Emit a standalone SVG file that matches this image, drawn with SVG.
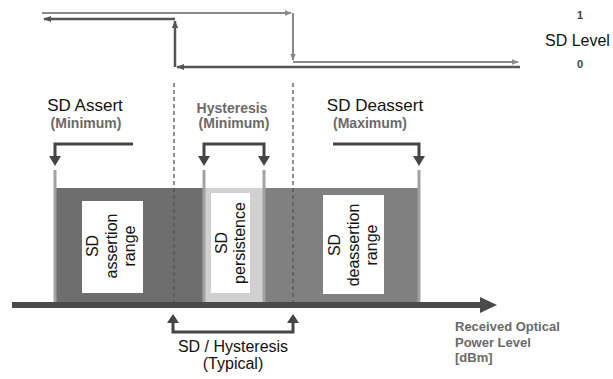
<svg xmlns="http://www.w3.org/2000/svg" width="613" height="379" viewBox="0 0 613 379">
<style>
.t{font-family:"Liberation Sans",Arial,sans-serif;fill:#111}
.b{font-family:"Liberation Sans",Arial,sans-serif;font-weight:bold;fill:#6a6a6a}
.lv{font-family:"Liberation Sans",Arial,sans-serif;font-weight:bold;fill:#444;font-size:11px}
.sig1{stroke:#8a8a8a;stroke-width:2;fill:none}
.sig2{stroke:#555;stroke-width:2.5;fill:none}
.dash{stroke:#555;stroke-width:1.3;stroke-dasharray:4 3;fill:none}
.brk{stroke:#454545;stroke-width:3;fill:none}
.ah{fill:#454545}
.vl{stroke:#a2a2a2;stroke-width:3}
.box{fill:#fff}
</style>
<defs>
<marker id="a1" viewBox="0 0 10 10" refX="9" refY="5" markerWidth="7" markerHeight="7" markerUnits="userSpaceOnUse" orient="auto"><path d="M0,1 L10,5 L0,9 z" fill="#8a8a8a"/></marker>
<marker id="a2" viewBox="0 0 10 10" refX="9" refY="5" markerWidth="8" markerHeight="8" markerUnits="userSpaceOnUse" orient="auto"><path d="M0,1 L10,5 L0,9 z" fill="#555"/></marker>
</defs>

<g id="band">
<rect x="55" y="188" width="150" height="117" fill="#6e6e6e"/>
<rect x="204" y="188" width="60" height="117" fill="#d0d0d0"/>
<rect x="264" y="188" width="155" height="117" fill="#808080"/>
</g>

<g id="connectors">
<path class="sig1" d="M42,13 H291" marker-end="url(#a1)"/>
<path class="sig1" d="M293,13 V60" marker-end="url(#a1)"/>
<path class="sig1" d="M293,62 H518" marker-end="url(#a1)"/>
<path class="sig2" d="M520,67 H177" marker-end="url(#a2)"/>
<path class="sig2" d="M175,67 V21" marker-end="url(#a2)"/>
<path class="sig2" d="M175,19 H44" marker-end="url(#a2)"/>
<path class="dash" d="M174,83 V305"/>
<path class="dash" d="M293,83 V305"/>
<line class="vl" x1="55" y1="170" x2="55" y2="305"/>
<line class="vl" x1="204" y1="170" x2="204" y2="305"/>
<line class="vl" x1="264" y1="170" x2="264" y2="305"/>
<line class="vl" x1="419" y1="170" x2="419" y2="305"/>
<path class="brk" d="M133,144 H55 V158"/>
<polygon class="ah" points="49,156 61,156 55,166"/>
<path class="brk" d="M204,158 V144 H264 V158"/>
<polygon class="ah" points="198,156 210,156 204,166"/>
<polygon class="ah" points="258,156 270,156 264,166"/>
<path class="brk" d="M333,144 H419 V158"/>
<polygon class="ah" points="413,156 425,156 419,166"/>
<path class="brk" d="M173,322 V332 H293 V322"/>
<polygon class="ah" points="167,323 179,323 173,314"/>
<polygon class="ah" points="287,323 299,323 293,314"/>
<line x1="12" y1="305" x2="482" y2="305" stroke="#4a4a4a" stroke-width="6"/>
<polygon points="480,297 497,305 480,313" fill="#4a4a4a"/>
</g>

<g id="sd-level">
<text class="lv" x="580" y="19" text-anchor="middle">1</text>
<text class="t" x="545" y="46" font-size="16">SD Level</text>
<text class="lv" x="580" y="68" text-anchor="middle">0</text>
</g>

<g id="sd-assert-label">
<text class="t" x="85" y="111" font-size="17" text-anchor="middle">SD Assert</text>
<text class="b" x="86" y="128" font-size="14" text-anchor="middle">(Minimum)</text>
</g>
<g id="hysteresis-label">
<text class="b" x="232" y="113" font-size="14" text-anchor="middle" fill="#5e5e5e">Hysteresis</text>
<text class="b" x="234" y="128" font-size="14" text-anchor="middle">(Minimum)</text>
</g>
<g id="sd-deassert-label">
<text class="t" x="375" y="111" font-size="17" text-anchor="middle">SD Deassert</text>
<text class="b" x="370" y="128" font-size="14" text-anchor="middle">(Maximum)</text>
</g>

<g id="sd-assertion-range">
<rect class="box" x="82" y="201" width="61" height="92"/>
<text class="t" font-size="16" text-anchor="middle" transform="translate(112.5,246) rotate(-90)"><tspan x="0" y="-14.5">SD</tspan><tspan x="0" y="4">assertion</tspan><tspan x="0" y="22.5">range</tspan></text>
</g>
<g id="sd-persistence">
<rect class="box" x="211" y="193" width="39" height="100"/>
<text class="t" font-size="16" text-anchor="middle" transform="translate(230.5,243) rotate(-90)"><tspan x="0" y="-4">SD</tspan><tspan x="0" y="14.5">persistence</tspan></text>
</g>
<g id="sd-deassertion-range">
<rect class="box" x="323" y="195" width="61" height="99"/>
<text class="t" font-size="16" text-anchor="middle" transform="translate(353.5,245) rotate(-90)"><tspan x="0" y="-13.5">SD</tspan><tspan x="0" y="5">deassertion</tspan><tspan x="0" y="23.5">range</tspan></text>
</g>

<g id="axis-label">
<text class="b" x="455" y="331" font-size="13"><tspan x="455">Received Optical</tspan><tspan x="455" dy="15.5">Power Level</tspan><tspan x="455" dy="15.5">[dBm]</tspan></text>
</g>
<g id="typical-label">
<text class="t" x="233" y="352" font-size="16" text-anchor="middle">SD / Hysteresis</text>
<text class="t" x="233" y="369" font-size="16" text-anchor="middle">(Typical)</text>
</g>
</svg>
